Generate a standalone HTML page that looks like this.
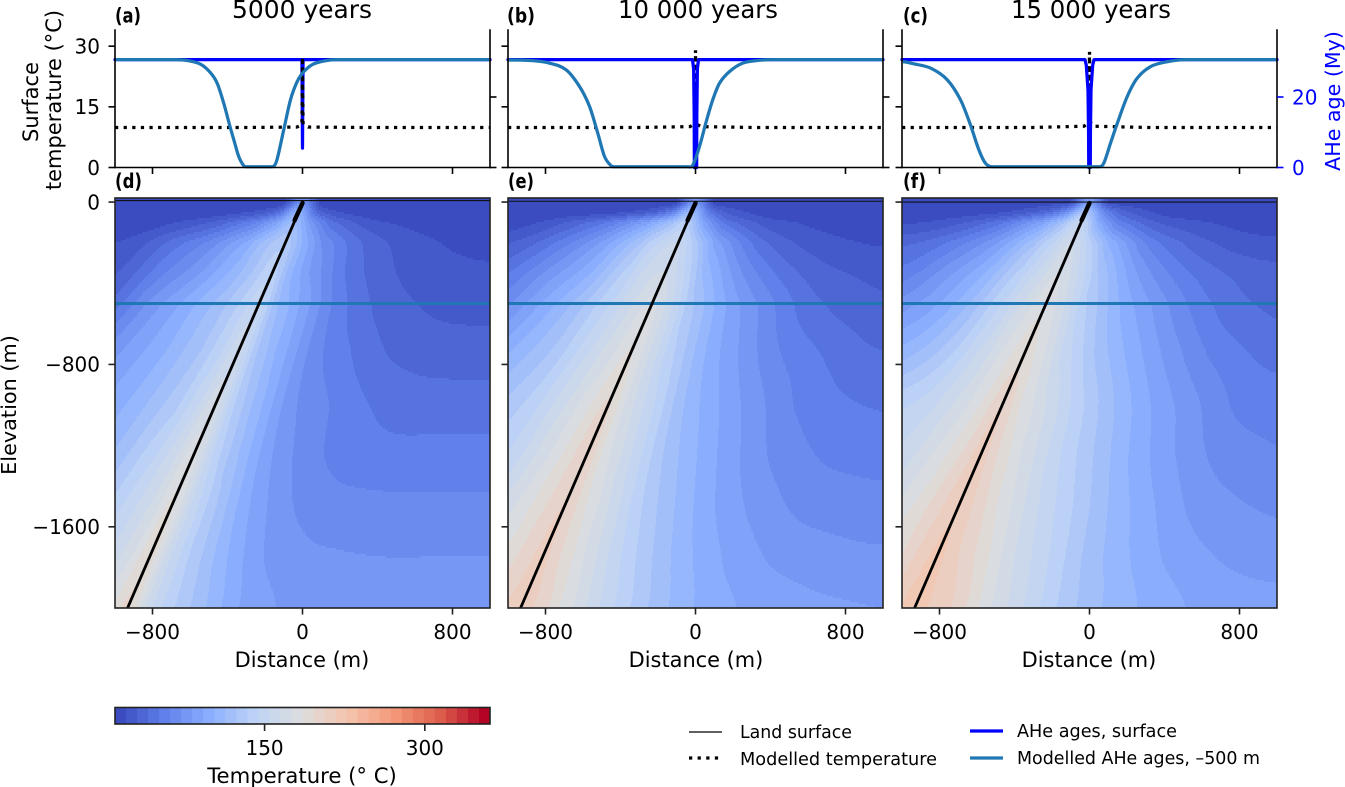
<!DOCTYPE html>
<html>
<head>
<meta charset="utf-8">
<title>Fault thermal model</title>
<style>
html,body{margin:0;padding:0;background:#fff;}
svg{display:block;font-family:"DejaVu Sans","Liberation Sans",sans-serif;}
</style>
</head>
<body>
<svg id="fig" xmlns="http://www.w3.org/2000/svg" width="1345" height="787" viewBox="0 0 1345 787">
<defs>
<clipPath id="clip-d"><rect x="115" y="198" width="375" height="410"/></clipPath>
<clipPath id="clip-e"><rect x="508" y="198" width="375" height="410"/></clipPath>
<clipPath id="clip-f"><rect x="902" y="198" width="375" height="410"/></clipPath>
</defs>
<g id="marks"></g>
<g id="colorbar"></g>

<text x="302" y="18" font-size="25" text-anchor="middle" textLength="140" lengthAdjust="spacingAndGlyphs">5000 years</text>
<text x="698" y="18" font-size="25" text-anchor="middle" textLength="160" lengthAdjust="spacingAndGlyphs">10 000 years</text>
<text x="1091" y="18" font-size="25" text-anchor="middle" textLength="160" lengthAdjust="spacingAndGlyphs">15 000 years</text>

<text x="115" y="22.5" font-size="20" font-weight="bold" textLength="26" lengthAdjust="spacingAndGlyphs">(a)</text>
<text x="507" y="22.5" font-size="20" font-weight="bold" textLength="28" lengthAdjust="spacingAndGlyphs">(b)</text>
<text x="903" y="22.5" font-size="20" font-weight="bold" textLength="25" lengthAdjust="spacingAndGlyphs">(c)</text>
<text x="115" y="188" font-size="20" font-weight="bold" textLength="27" lengthAdjust="spacingAndGlyphs">(d)</text>
<text x="508" y="188" font-size="20" font-weight="bold" textLength="26" lengthAdjust="spacingAndGlyphs">(e)</text>
<text x="903" y="188" font-size="20" font-weight="bold" textLength="23" lengthAdjust="spacingAndGlyphs">(f)</text>

<text transform="translate(38,102) rotate(-90)" font-size="21" text-anchor="middle">Surface</text>
<text transform="translate(61,100) rotate(-90)" font-size="21" text-anchor="middle">temperature (°C)</text>
<text transform="translate(16,405) rotate(-90)" font-size="20.8" text-anchor="middle">Elevation (m)</text>
<text transform="translate(1340,101) rotate(-90)" font-size="20.6" fill="#0000ff" text-anchor="middle">AHe age (My)</text>

<text x="302" y="667" font-size="20.9" text-anchor="middle">Distance (m)</text>
<text x="696" y="667" font-size="20.9" text-anchor="middle">Distance (m)</text>
<text x="1089" y="667" font-size="20.9" text-anchor="middle">Distance (m)</text>

<text x="302" y="783" font-size="21.2" text-anchor="middle">Temperature (° C)</text>

<g>
<line x1="689" x2="722" y1="732" y2="732" stroke="#000" stroke-width="1.3"/>
<text x="740" y="738" font-size="17.4" textLength="112" lengthAdjust="spacingAndGlyphs">Land surface</text>
<line x1="689" x2="722" y1="758" y2="758" stroke="#000" stroke-width="3.25" stroke-dasharray="3.25 5.36"/>
<text x="740" y="765" font-size="17.4" textLength="197" lengthAdjust="spacingAndGlyphs">Modelled temperature</text>
<line x1="970" x2="1003" y1="731" y2="731" stroke="#0000ff" stroke-width="3.25"/>
<text x="1017" y="737" font-size="17.4" textLength="160" lengthAdjust="spacingAndGlyphs">AHe ages, surface</text>
<line x1="970" x2="1003" y1="758" y2="758" stroke="#1f77b4" stroke-width="3.25"/>
<text x="1017" y="764" font-size="17.4" textLength="243" lengthAdjust="spacingAndGlyphs">Modelled AHe ages, –500 m</text>
</g>
</svg>

<script>
// ---- chart data ----
const panelIds = ['a', 'b', 'c'];
const heatIds = ['d', 'e', 'f'];

// surface temperature (°C) along the profile
const tempDistances = [-1000, -300, -30, -10, -3, 0, 3, 10, 30, 300, 1000];
const tempA = [9.9, 9.9, 10, 10.4, 11, 27.3, 11, 10.4, 10, 9.9, 9.9];
const tempB = [9.9, 9.9, 10.1, 10.6, 11, 29, 11, 10.6, 10.1, 9.9, 9.9];
const tempC = [9.9, 9.9, 10.2, 10.8, 11.5, 28.6, 11.5, 10.8, 10.2, 9.9, 9.9];

// AHe ages at the surface (My)
const surfDistA = [-1000, -3, 0, 3, 1000];
const surfAgeA = [30.6, 30.6, 5.5, 30.6, 30.6];
const surfDistB = [-1000, -16, -10, -7, -6, 6, 7, 10, 16, 1000];
const surfAgeB = [30.6, 30.6, 28, 15, 0, 0, 15, 28, 30.6, 30.6];
const surfDistC = [-1000, -24, -17, -8, -5, -4, 4, 5, 8, 17, 24, 1000];
const surfAgeC = [30.6, 30.6, 29, 22, 10, 0, 0, 10, 22, 29, 30.6, 30.6];

// Modelled AHe ages at -500 m (My)
const modelDistA = [-997, -686, -615, -544, -491, -455, -420, -384, -366, -340, -313, -295, -162, -139, -100, -64, -28, 7, 60, 149, 220, 1000];
const modelAgeA = [30.6, 30.6, 30.35, 29.3, 26.9, 23.9, 18.2, 11.1, 7.8, 3.1, 0.5, 0.2, 0.2, 1.7, 10.7, 19.2, 24.4, 27.2, 29.4, 30.5, 30.6, 30.6];
const modelDistB = [-1000, -868, -779, -690, -619, -565, -521, -485, -450, -432, -41, -14, 21, 57, 92, 128, 181, 252, 341, 430, 1000];
const modelAgeB = [30.5, 30.3, 29.6, 27.7, 23, 17.3, 9.7, 3.1, 0.5, 0.2, 0.2, 0.7, 5.9, 13, 19.2, 23.9, 27.2, 29.6, 30.4, 30.6, 30.6];
const modelDistC = [-995, -937, -848, -759, -688, -635, -590, -555, -519, 50, 76, 112, 148, 201, 254, 325, 414, 521, 1000];
const modelAgeC = [30, 29.4, 28.2, 24.9, 19.2, 12.1, 5, 1.2, 0.2, 0.2, 1.2, 6.9, 12.5, 20.1, 25.3, 28.6, 30, 30.6, 30.6];

// fault trace (depth m, distance m)
const faultDepths = [0, 2000];
const faultDistances = [0, -933];

// land surface and profile elevations (m)
const landElevation = [0];
const profileElevation = [-500];

// temperature field (°C): rows by depth below surface, columns by distance from the fault
const heatDepths = [0, 50, 100, 200, 350, 500, 750, 1000, 1250, 1500, 1750, 2000];
const heatOffsets = [-1000, -800, -600, -400, -200, -100, 0, 100, 200, 400, 600, 800, 1000, 1250, 1500, 1750, 2000];
const heatD = [
[10,10,10,10,11,14,70,14,11,10,10,10,10,10,10,10,10],
[11,11,12,15,25,45,100,40,22,13,11,11,11,11,11,11,11],
[12,14,22,35,60,85,115,75,45,25,18,15,14,14,14,14,14],
[18,25,45,65,95,118,130,100,70,42,28,21,18,17,17,17,17],
[22,33,58,80,107,125,140,105,82,50,34,26,23,22,22,22,22],
[35,43,72,95,118,135,150,115,95,60,41,32,28,27,27,27,27],
[48,66,85,102,124,142,160,125,103,68,52,41,37,36,36,36,36],
[65,78,93,110,132,152,170,135,112,76,62,52,47,46,46,46,46],
[85,92,100,118,144,162,180,145,120,85,67,58,55,55,55,55,55],
[100,108,115,128,152,168,187,155,130,95,75,67,65,64,64,64,64],
[115,122,130,140,158,175,192,158,135,105,83,75,73,72,72,72,72],
[130,135,145,150,168,182,197,163,140,115,92,82,80,79,79,79,79]
];
const heatE = [
[11,11,11,11,13,17,75,17,12,11,10,10,10,10,10,10,10],
[12,12,14,18,32,58,112,52,28,15,12,11,11,11,11,11,11],
[14,20,35,55,88,112,135,85,50,28,20,16,15,15,15,15,15],
[25,37,58,85,122,145,155,125,88,50,32,24,20,19,19,19,19],
[40,55,78,102,138,158,165,145,112,74,50,36,30,26.5,26,26,26],
[55,67,92,117,147,165,178,158,128,92,68,48,38,33,32,32,32],
[75,90,108,128,158,173,187,165,140,103,80,62,52,43,41,41,41],
[95,108,122,140,168,184,197,172,152,114,92,75,61,53,50,49,49],
[115,125,135,148,175,190,203,180,161,125,102,84,70,61,58,57,57],
[130,138,148,160,182,196,206,188,170,136,112,93,80,70,67,66,66],
[145,152,160,168,188,200,209,195,178,147,122,103,90,80,76,74,74],
[160,165,172,180,193,205,212,202,186,157,132,112,98,90,85,83,82]
];
const heatF = [
[12,12,12,13,15,20,80,20,14,12,11,10,10,10,10,10,10],
[13,14,16,22,40,70,125,65,35,18,14,12,11,11,11,11,11],
[18,22,32,52,88,118,150,95,58,32,23,18,15,15,15,15,15],
[38,42,58,82,120,145,165,135,100,60,40,29,24,23,23,23,23],
[50,58,78,102,138,158,175,155,125,85,60,45,37,33,32,32,32],
[65,75,90,115,150,170,183,165,137,102,78,58,45,38,37,37,37],
[85,100,112,132,162,180,192,177,153,120,96,76,60,50,47,47,47],
[110,122,138,150,172,188,205,185,169,139,113,92,76,60,56,54,54],
[130,140,150,160,182,197,210,194,177,148,124,102,85,70,64,62,62],
[145,155,165,170,190,204,215,202,186,158,135,113,96,80,73,70,70],
[160,165,175,182,195,209,219,208,196,167,144,121,105,90,82,78,78],
[175,180,185,190,200,214,222,213,205,176,152,129,113,100,91,87,85]
];

// tick labels
const distanceTicks = [-800, 0, 800];
const distanceTickLabels = ['−800', '0', '800'];
const tempTicks = [0, 15, 30];
const tempTickLabels = ['0', '15', '30'];
const ageTicks = [0, 20];
const ageTickLabels = ['0', '20'];
const elevationTicks = [0, -800, -1600];
const elevationTickLabels = ['0', '−800', '−1600'];
const colorbarTicks = [150, 300];
const colorbarTickLabels = ['150', '300'];

// colour scale
const tempMin = 10;
const tempMax = 361;
const bandCount = 34;
const coolwarmStops = [[59,76,192],[98,130,234],[141,176,254],[192,212,245],[221,221,221],[245,196,173],[244,152,122],[222,96,77],[180,4,38]];

// ---- layout ----
const panelLefts = [115, 508, 902];
const panelWidth = 375;
const topY0 = 30, topY1 = 167.5;
const heatY0 = 198, heatY1 = 608;
const xDomain = [-1000, 1000];
const tempDomain = [0, 34];
const ageDomain = [0, 39];
const elevDomain = [20, -2000];
const NS = 'http://www.w3.org/2000/svg';
const marks = document.getElementById('marks');
const cbar = document.getElementById('colorbar');

function make(tag, parent, attrs) {
  const e = document.createElementNS(NS, tag);
  for (const k in attrs) e.setAttribute(k, attrs[k]);
  parent.appendChild(e);
  return e;
}
function xScale(left, v) { return left + (v - xDomain[0]) / (xDomain[1] - xDomain[0]) * panelWidth; }
function tempScale(v) { return topY1 - (v - tempDomain[0]) / (tempDomain[1] - tempDomain[0]) * (topY1 - topY0); }
function ageScale(v) { return topY1 - (v - ageDomain[0]) / (ageDomain[1] - ageDomain[0]) * (topY1 - topY0); }
function elevScale(v) { return heatY0 + (elevDomain[0] - v) / (elevDomain[0] - elevDomain[1]) * (heatY1 - heatY0); }
function cbScale(v) { return 115 + (v - tempMin) / (tempMax - tempMin) * panelWidth; }

function bandColor(i) {
  const f = i / (bandCount - 1) * (coolwarmStops.length - 1);
  const k = Math.min(Math.floor(f), coolwarmStops.length - 2);
  const t = f - k;
  const a = coolwarmStops[k], b = coolwarmStops[k + 1];
  return 'rgb(' + Math.round(a[0] + (b[0] - a[0]) * t) + ',' + Math.round(a[1] + (b[1] - a[1]) * t) + ',' + Math.round(a[2] + (b[2] - a[2]) * t) + ')';
}
function bandOf(T) {
  return Math.max(0, Math.min(bandCount - 1, Math.floor((T - tempMin) / (tempMax - tempMin) * bandCount)));
}
function locate(arr, v) {
  if (v <= arr[0]) return [0, 0];
  if (v >= arr[arr.length - 1]) return [arr.length - 2, 1];
  let i = 0;
  while (arr[i + 1] < v) i++;
  return [i, (v - arr[i]) / (arr[i + 1] - arr[i])];
}
function faultAt(depth) {
  const r = locate(faultDepths, depth);
  return faultDistances[r[0]] + (faultDistances[r[0] + 1] - faultDistances[r[0]]) * r[1];
}
function catmull(p0, p1, p2, p3, t) {
  return 0.5 * (2 * p1 + (p2 - p0) * t + (2 * p0 - 5 * p1 + 4 * p2 - p3) * t * t + (3 * p1 - p0 - 3 * p2 + p3) * t * t * t);
}
function sampleRow(row, i, t) {
  const n = row.length - 1;
  return catmull(row[Math.max(0, i - 1)], row[i], row[i + 1], row[Math.min(n, i + 2)], t);
}
function sampleField(field, depth, dist) {
  const rz = locate(heatDepths, depth);
  const ro = locate(heatOffsets, dist - faultAt(depth));
  const n = field.length - 1, i = rz[0];
  return catmull(
    sampleRow(field[Math.max(0, i - 1)], ro[0], ro[1]),
    sampleRow(field[i], ro[0], ro[1]),
    sampleRow(field[i + 1], ro[0], ro[1]),
    sampleRow(field[Math.min(n, i + 2)], ro[0], ro[1]),
    rz[1]
  );
}
function pointsOf(left, xs, ys, yFn) {
  return xs.map(function (x, i) { return xScale(left, x).toFixed(2) + ',' + yFn(ys[i]).toFixed(2); }).join(' ');
}
function smoothPath(left, xs, ys, yFn) {
  const P = xs.map(function (x, i) { return [xScale(left, x), yFn(ys[i])]; });
  function slopeAt(i) {
    if (i === 0 || i === P.length - 1) return 0;
    const d1 = P[i][1] - P[i - 1][1], d2 = P[i + 1][1] - P[i][1];
    if (d1 * d2 <= 0) return 0;
    return (P[i + 1][1] - P[i - 1][1]) / (P[i + 1][0] - P[i - 1][0]);
  }
  let d = 'M' + P[0][0].toFixed(2) + ' ' + P[0][1].toFixed(2);
  for (let i = 0; i < P.length - 1; i++) {
    const b = P[i], c = P[i + 1];
    const len = c[0] - b[0];
    d += 'C' + (b[0] + len / 3).toFixed(2) + ' ' + (b[1] + slopeAt(i) * len / 3).toFixed(2) + ' ' +
      (c[0] - len / 3).toFixed(2) + ' ' + (c[1] - slopeAt(i + 1) * len / 3).toFixed(2) + ' ' +
      c[0].toFixed(2) + ' ' + c[1].toFixed(2);
  }
  return d;
}
function spine(parent, name, x1, y1, x2, y2, color) {
  const l = make('line', parent, { x1: x1, y1: y1, x2: x2, y2: y2, stroke: color, 'stroke-width': 1.6, 'stroke-linecap': 'square' });
  
  
  return l;
}
function tick(parent, name, x1, y1, x2, y2, color) {
  const l = make('line', parent, { x1: x1, y1: y1, x2: x2, y2: y2, stroke: color, 'stroke-width': 1.6 });
  
  
  return l;
}
function label(parent, name, x, y, str, anchor, color) {
  const t = make('text', parent, { x: x, y: y, 'font-size': 20, 'text-anchor': anchor, fill: color });
  t.textContent = str;
  
  
  return t;
}

const tempSeries = [tempA, tempB, tempC];
const surfDists = [surfDistA, surfDistB, surfDistC];
const surfAges = [surfAgeA, surfAgeB, surfAgeC];
const modelDists = [modelDistA, modelDistB, modelDistC];
const modelAges = [modelAgeA, modelAgeB, modelAgeC];
const heatFields = [heatD, heatE, heatF];

panelIds.forEach(function (id, p) {
  const left = panelLefts[p], right = left + panelWidth;

  // ---- top panel ----
  const g = make('g', marks, {});
  
  

  function drawTemp() {
    const tl = make('polyline', g, { points: pointsOf(left, tempDistances, tempSeries[p], tempScale), fill: 'none', stroke: '#000', 'stroke-width': 3.25, 'stroke-dasharray': '3.25 5.36' });
    
    
  }
  if (p > 0) drawTemp();

  const sl = make('polyline', g, { points: pointsOf(left, surfDists[p], surfAges[p], ageScale), fill: 'none', stroke: '#0000ff', 'stroke-width': 3.25, 'stroke-linejoin': 'round', 'stroke-linecap': 'round' });
  
  

  if (p === 0) drawTemp();

  const ml = make('path', g, { d: smoothPath(left, modelDists[p], modelAges[p], ageScale), fill: 'none', stroke: '#1f77b4', 'stroke-width': 3.25, 'stroke-linejoin': 'round' });
  
  

  spine(g, 'left-spine-' + id, left, topY0, left, topY1, '#000');
  spine(g, 'right-spine-' + id, right, topY0, right, topY1, '#000');
  spine(g, 'bottom-spine-' + id, left, topY1, right, topY1, '#000');

  distanceTicks.forEach(function (v) {
    const x = xScale(left, v);
    tick(g, 'x-tick-' + id, x, topY1, x, topY1 + 6.5, '#000');
  });
  tempTicks.forEach(function (v, i) {
    const y = tempScale(v);
    tick(g, 'temp-tick-' + id, left - 6.5, y, left, y, '#000');
    if (p === 0) label(g, 'temp-tick-label', 100, y + 7.3, tempTickLabels[i], 'end', '#000');
  });
  ageTicks.forEach(function (v, i) {
    const y = ageScale(v);
    const col = p === 2 ? '#0000ff' : '#000';
    tick(g, 'age-tick-' + id, right, y, right + 6.5, y, col);
    if (p === 2) label(g, 'age-tick-label', 1292, y + 7.3, ageTickLabels[i], 'start', '#0000ff');
  });

  // ---- heat panel ----
  const h = make('g', marks, {});
  
  

  const cells = make('g', h, { 'clip-path': 'url(#clip-' + heatIds[p] + ')', 'shape-rendering': 'crispEdges' });
  
  
  const field = heatFields[p];
  const rowH = 2;
  for (let py = heatY0; py < heatY1; py += rowH) {
    const elev = elevDomain[0] + (py + rowH / 2 - heatY0) / (heatY1 - heatY0) * (elevDomain[1] - elevDomain[0]);
    const depth = Math.max(0, -elev);
    let start = left, cur = -1;
    for (let px = left; px <= right; px++) {
      const dist = xDomain[0] + (px + 0.5 - left) / panelWidth * (xDomain[1] - xDomain[0]);
      const b = px === right ? -2 : bandOf(sampleField(field, depth, dist));
      if (b !== cur) {
        if (cur >= 0) {
          const r = make('rect', cells, { x: start, y: py, width: px - start, height: rowH, fill: bandColor(cur) });
          
          
        }
        start = px;
        cur = b;
      }
    }
  }

  const over = make('g', h, { 'clip-path': 'url(#clip-' + heatIds[p] + ')' });
  
  

  const prof = make('line', over, { x1: left, x2: right, y1: elevScale(profileElevation[0]), y2: elevScale(profileElevation[0]), stroke: '#1f77b4', 'stroke-width': 3 });
  
  

  const landShift = p === 0 ? -1.5 : (p === 1 ? -0.8 : 0);
  const land = make('line', over, { x1: left, x2: right, y1: elevScale(landElevation[0]) + landShift, y2: elevScale(landElevation[0]) + landShift, stroke: '#111', 'stroke-width': 1.1 });
  
  

  const fault = make('line', over, {
    x1: xScale(left, faultDistances[0]), y1: elevScale(-faultDepths[0]) + 1,
    x2: xScale(left, faultDistances[1]), y2: elevScale(-faultDepths[1]),
    stroke: '#000', 'stroke-width': 2.8
  });
  
  

  const tip = make('line', over, {
    x1: xScale(left, faultAt(0)), y1: elevScale(0) + 1,
    x2: xScale(left, faultAt(90)), y2: elevScale(-90),
    stroke: '#000', 'stroke-width': 4.4, 'stroke-linecap': 'round'
  });
  
  

  const fr = make('rect', h, { x: left, y: heatY0, width: panelWidth, height: heatY1 - heatY0, fill: 'none', stroke: '#222', 'stroke-width': 1.6 });
  
  

  distanceTicks.forEach(function (v, i) {
    const x = xScale(left, v);
    tick(h, 'distance-tick-' + heatIds[p], x, heatY1, x, heatY1 + 6.5, '#222');
    label(h, 'distance-tick-label', x, 639, distanceTickLabels[i], 'middle', '#000');
  });
  elevationTicks.forEach(function (v, i) {
    const y = elevScale(v);
    tick(h, 'elevation-tick-' + heatIds[p], left - 6.5, y, left, y, '#222');
    if (p === 0) label(h, 'elevation-tick-label', 100, y + 7.3, elevationTickLabels[i], 'end', '#000');
  });
});

// ---- colour bar ----
for (let i = 0; i < bandCount; i++) {
  const tA = tempMin + i / bandCount * (tempMax - tempMin);
  const tB = tempMin + (i + 1) / bandCount * (tempMax - tempMin);
  const r = make('rect', cbar, { x: cbScale(tA), y: 707.5, width: cbScale(tB) - cbScale(tA) + 0.4, height: 16.5, fill: bandColor(i) });
  
  
}
const cbFrame = make('rect', cbar, { x: 115, y: 707.5, width: panelWidth, height: 16.5, fill: 'none', stroke: '#222', 'stroke-width': 1.6 });


colorbarTicks.forEach(function (v, i) {
  const x = cbScale(v);
  tick(cbar, 'colorbar-tick', x, 724, x, 731, '#222');
  label(cbar, 'colorbar-tick-label', x, 755, colorbarTickLabels[i], 'middle', '#000');
});
</script>
</body>
</html>
